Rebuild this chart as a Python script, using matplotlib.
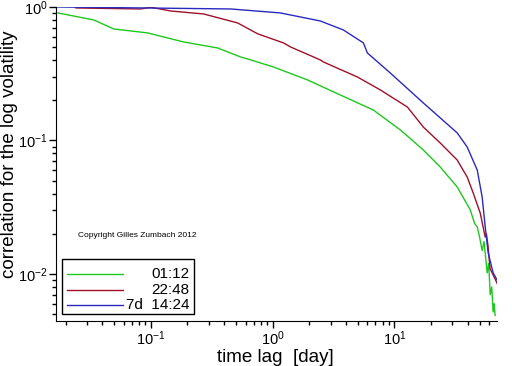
import matplotlib
matplotlib.use("Agg")
import matplotlib.pyplot as plt
from matplotlib.patches import Rectangle

plt.rcParams['font.family'] = ['Liberation Sans', 'DejaVu Sans']
plt.rcParams['mathtext.fontset'] = 'custom'
plt.rcParams['mathtext.rm'] = 'Liberation Sans'

# lag [day] / correlation
green_x = [0.0173, 0.0341, 0.0498, 0.0945, 0.186, 0.354, 0.547, 0.624, 1.02, 1.94,
           3.61, 6.73, 11.2, 17.3, 23.8, 32.8, 42.0, 45.5, 47.9, 50.0, 52.6,
           54.5, 57.8, 59.5, 61.2, 63.0, 64.7, 66.0, 67.2]
green_y = [0.902, 0.799, 0.684, 0.639, 0.547, 0.493, 0.422, 0.408, 0.355, 0.284,
           0.219, 0.169, 0.120, 0.0849, 0.0633, 0.0449, 0.0302, 0.0240, 0.0225, 0.0190, 0.0150,
           0.0175, 0.0102, 0.0120, 0.0070, 0.0080, 0.0052, 0.0060, 0.0049]

red_x = [0.0243, 0.0828, 0.10, 0.146, 0.272, 0.517, 0.753, 1.23, 1.41, 2.47, 2.62,
         4.97, 7.68, 12.8, 17.3, 23.8, 32.8, 39.6, 44.4, 50.7, 55.7, 57.0, 58.9,
         61.0, 63.5, 66.0, 69.8]
red_y = [0.983, 0.966, 0.995, 0.933, 0.886, 0.759, 0.63, 0.538, 0.501, 0.401, 0.387,
         0.299, 0.239, 0.178, 0.126, 0.0958, 0.0714, 0.0533, 0.0404, 0.0286, 0.0189, 0.0200, 0.0159,
         0.0110, 0.0102, 0.0095, 0.0085]

blue_x = [0.01663, 0.453, 1.16, 2.47, 3.82, 5.57, 6.01, 9.27, 17.3, 32.8, 39.6,
          47.9, 52.6, 55.7, 58.9, 64.7, 69.8]
blue_y = [1.0, 0.966, 0.902, 0.785, 0.672, 0.538, 0.452, 0.320, 0.191, 0.114, 0.0894,
          0.0601, 0.0377, 0.0225, 0.0144, 0.0102, 0.0090]

labels = ["01:12", "22:48", "7d  14:24"]
colors = ["#1ec81e", "#a0102a", "#2a2ac0"]

fig = plt.figure(figsize=(5.12, 3.66), dpi=100)
ax = fig.add_axes([0.109, 0.123, 0.862, 0.858])

ax.plot(green_x, green_y, color=colors[0], lw=1)
ax.plot(red_x, red_y, color=colors[1], lw=1)
ax.plot(blue_x, blue_y, color=colors[2], lw=1)

ax.set_xscale('log')
ax.set_yscale('log')
ax.set_xlim(0.01663, 69.8)
ax.set_ylim(0.00445, 1.0)

ax.spines['top'].set_visible(False)
ax.spines['right'].set_visible(False)
ax.tick_params(which='major', direction='out', length=5, width=1, labelsize=10.5, pad=1)
ax.tick_params(which='minor', direction='out', length=3, width=1)

ax.set_xlabel("time lag  [day]", fontsize=13.5)
ax.set_ylabel("correlation for the log volatility", fontsize=13.5)
ax.xaxis.set_label_coords(0.497, -0.088)
ax.yaxis.set_label_coords(-0.085, 0.53)

ax.text(0.05, 0.273, "Copyright Gilles Zumbach 2012", transform=ax.transAxes,
        fontsize=6, va='center', ha='left')

# legend box drawn by hand so the labels can be right aligned
ax.add_patch(Rectangle((0.0136, 0.022), 0.3, 0.175, transform=ax.transAxes,
                       fill=False, edgecolor='black', lw=1, clip_on=False))
for i in range(3):
    yy = 0.15 - i * 0.05
    ax.plot([0.025, 0.152], [yy, yy], color=colors[i], lw=1, transform=ax.transAxes)
    ax.text(0.302, yy, labels[i], transform=ax.transAxes, fontsize=11,
            ha='right', va='center')

fig.savefig("out.png", dpi=100)
